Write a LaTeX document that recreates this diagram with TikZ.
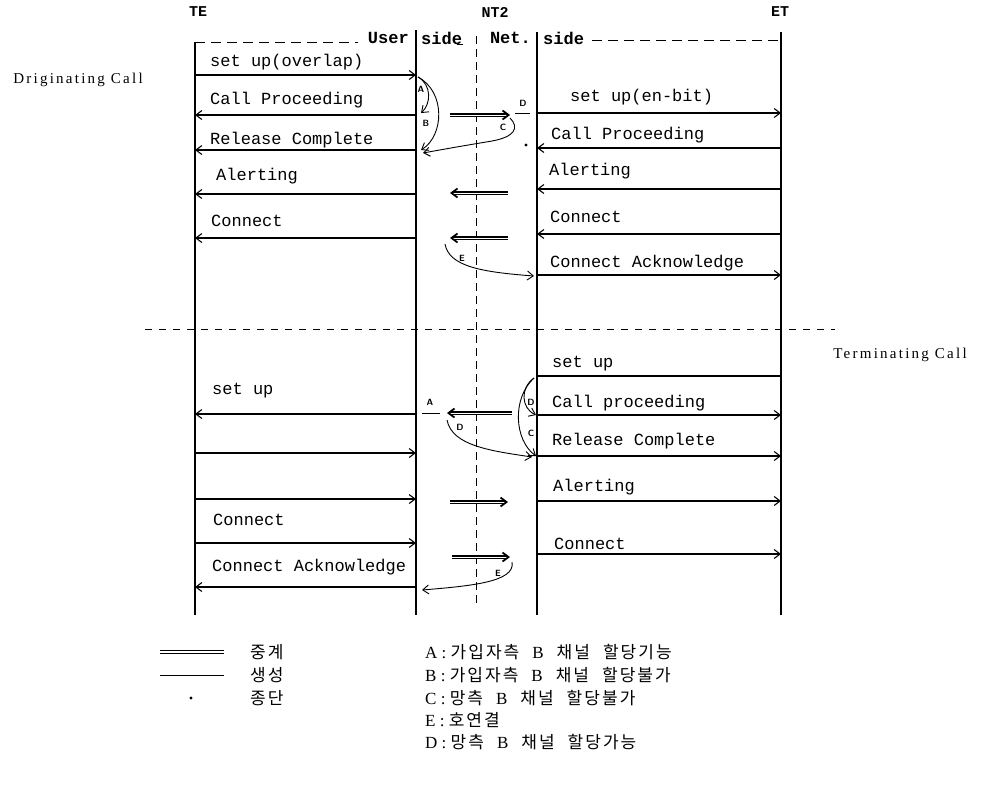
\documentclass[tikz,border=0pt]{standalone}
\usepackage{fontspec}
\setmainfont{Liberation Serif}
\setmonofont{Liberation Mono}
\newfontfamily\krfont{Noto Sans CJK KR}[LetterSpace=12]
\newfontfamily\callfont{Liberation Serif}[LetterSpace=15]
\usetikzlibrary{arrows.meta}
\newcommand{\kt}[1]{{\krfont #1}}
\newcommand{\gap}{\hspace{13pt}}

\tikzset{
  life/.style={line width=1.2pt},
  msg/.style={line width=1.1pt,->},
  relay/.style={double,double distance=0.7pt,line width=1.8pt},
  hop/.style={line width=0.9pt,->},
  lbl/.style={anchor=west,inner sep=0pt,font=\fontsize{17}{17}\ttfamily},
  side/.style={inner sep=0pt,font=\fontsize{17}{17}\ttfamily\bfseries},
  head/.style={inner sep=0pt,font=\fontsize{15}{15}\ttfamily\bfseries},
  tag/.style={inner sep=0pt,font=\fontsize{9}{9}\sffamily\bfseries},
  callname/.style={inner sep=0pt,font=\fontsize{15}{15}\callfont},
  leg/.style={anchor=west,inner sep=0pt,font=\fontsize{17}{17}\selectfont}
}

\begin{document}
\begin{tikzpicture}[x=1pt,y=-1pt,>={Straight Barb[length=6pt,width=9pt]}]
\useasboundingbox (0,0) rectangle (981,806);

% lifelines
\coordinate (te) at (195,42);
\coordinate (us) at (416,30);
\coordinate (nt) at (476,36);
\coordinate (nw) at (537,32);
\coordinate (et) at (781,32);
\draw[life] (te) -- (te |- 0,615);
\draw[life] (us) -- (us |- 0,615);
\draw[life] (nw) -- (nw |- 0,615);
\draw[life] (et) -- (et |- 0,615);
\draw[line width=0.8pt,dash pattern=on 8pt off 5pt] (nt) -- (nt |- 0,603);

\node[head] (teL) at (198,12) {TE};
\node[head] (ntL) at (495,12) {NT2};
\node[head] (etL) at (780,12) {ET};

% header
\draw[line width=0.8pt,dash pattern=on 10pt off 6pt] (te) -- (358,42);
\node[side,anchor=east] (user) at (409,38) {User};
\node[side,anchor=west] (usd) at (421,38) {side};
\draw[line width=0.8pt] (457,44) -- (463,44);
\node[side,anchor=east] (net) at (531,38) {Net.};
\node[side,anchor=west] (nsd) at (543,38) {side};
\draw[line width=0.8pt,dash pattern=on 10pt off 6pt] (592,40) -- (et |- 0,40);

\node[callname] (orig) at (78,80) {Driginating Call};
\node[callname] (term) at (900,355) {Terminating Call};

% originating call, user side
\draw[msg] (te |- 0,75) -- (us |- 0,75);
\node[lbl] (o1) at (210,62) {set up(overlap)};
\draw[msg] (us |- 0,115) -- (te |- 0,115);
\node[lbl] (o2) at (210,100) {Call Proceeding};
\draw[msg] (us |- 0,150) -- (te |- 0,150);
\node[lbl] (o3) at (210,140) {Release Complete};
\draw[msg] (us |- 0,194) -- (te |- 0,194);
\node[lbl] (o4) at (216,176) {Alerting};
\draw[msg] (us |- 0,238) -- (te |- 0,238);
\node[lbl] (o5) at (211,221) {Connect};

% originating call, network side
\draw[msg] (nw |- 0,113) -- (et |- 0,113);
\node[lbl] (p1) at (570,97) {set up(en-bit)};
\draw[msg] (et |- 0,148) -- (nw |- 0,148);
\node[lbl] (p2) at (551,135) {Call Proceeding};
\draw[msg] (et |- 0,189) -- (nw |- 0,189);
\node[lbl] (p3) at (549,171) {Alerting};
\draw[msg] (et |- 0,234) -- (nw |- 0,234);
\node[lbl] (p4) at (550,217) {Connect};
\draw[msg] (nw |- 0,275) -- (et |- 0,275);
\node[lbl] (p5) at (550,263) {Connect Acknowledge};

% originating call, NT2
\draw[hop] (418,77) .. controls (432,85) and (431,104) .. (421,113);
\node[tag] (tA) at (421,89) {A};
\draw[hop] (418,77) .. controls (446,92) and (444,136) .. (421,150);
\node[tag] (tB) at (426,123) {B};
\draw[relay,->] (450,115) -- (510,115);
\node[tag] (tD) at (523,103) {D};
\draw[line width=0.8pt] (515,113) -- (530,113);
\draw[hop] (510,118) .. controls (520,128) and (514,137) .. (492,141)
  .. controls (462,146) and (445,149) .. (423,153);
\node[tag] (tC) at (503,127) {C};
\fill (526,145) circle (1.6pt);
\draw[relay,->] (508,193) -- (450,193);
\draw[relay,->] (508,238) -- (450,238);
\draw[hop] (445,244) .. controls (449,266) and (480,272) .. (534,276);
\node[tag] (tE) at (462,258) {E};

\draw[line width=0.8pt,dash pattern=on 7pt off 7pt] (145,329) -- (835,329);

% terminating call, network side
\draw[line width=1.1pt] (nw |- 0,376) -- (et |- 0,376);
\node[lbl] (q1) at (552,364) {set up};
\draw[msg] (nw |- 0,415) -- (et |- 0,415);
\node[lbl] (q2) at (552,403) {Call proceeding};
\draw[msg] (nw |- 0,456) -- (et |- 0,456);
\node[lbl] (q3) at (552,441) {Release Complete};
\draw[msg] (nw |- 0,501) -- (et |- 0,501);
\node[lbl] (q4) at (553,487) {Alerting};
\draw[msg] (nw |- 0,554) -- (et |- 0,554);
\node[lbl] (q5) at (554,544) {Connect};

% terminating call, user side
\draw[msg] (us |- 0,414) -- (te |- 0,414);
\node[lbl] (r1) at (212,391) {set up};
\draw[msg] (te |- 0,453) -- (us |- 0,453);
\draw[msg] (te |- 0,499) -- (us |- 0,499);
\draw[msg] (te |- 0,543) -- (us |- 0,543);
\node[lbl] (r2) at (213,520) {Connect};
\draw[msg] (us |- 0,587) -- (te |- 0,587);
\node[lbl] (r3) at (212,567) {Connect Acknowledge};

% terminating call, NT2
\draw[hop] (534,378) .. controls (520,388) and (521,408) .. (536,415);
\node[tag] (uD) at (531,402) {D};
\draw[hop] (534,378) .. controls (512,398) and (514,440) .. (536,456);
\node[tag] (uC) at (531,433) {C};
\draw[relay,->] (512,413) -- (447,413);
\node[tag] (uA) at (430,402) {A};
\draw[line width=0.8pt] (422,413) -- (440,413);
\draw[hop] (447,420) .. controls (452,446) and (492,451) .. (532,457);
\node[tag] (uD2) at (460,427) {D};
\draw[relay,->] (450,502) -- (508,502);
\draw[relay,->] (452,557) -- (510,557);
\draw[hop] (512,562) .. controls (516,582) and (470,586) .. (422,590);
\node[tag] (uE) at (498,573) {E};

% legend
\draw[double,double distance=1.4pt,line width=1pt] (160,652) -- (224,652);
\node[leg] (k1) at (250,652) {\kt{중계}};
\draw[line width=0.7pt] (160,675) -- (224,675);
\node[leg] (k2) at (250,675) {\kt{생성}};
\fill (191,698) circle (1.6pt);
\node[leg] (k3) at (250,698) {\kt{종단}};
\node[leg] (ka) at (425,652) {A : \kt{가입자측}\gap B\gap\kt{채널}\gap\kt{할당기능}};
\node[leg] (kb) at (425,675) {B : \kt{가입자측}\gap B\gap\kt{채널}\gap\kt{할당불가}};
\node[leg] (kc) at (425,698) {C : \kt{망측}\gap B\gap\kt{채널}\gap\kt{할당불가}};
\node[leg] (ke) at (425,720) {E : \kt{호연결}};
\node[leg] (kd) at (425,742) {D : \kt{망측}\gap B\gap\kt{채널}\gap\kt{할당가능}};
\end{tikzpicture}
\end{document}
